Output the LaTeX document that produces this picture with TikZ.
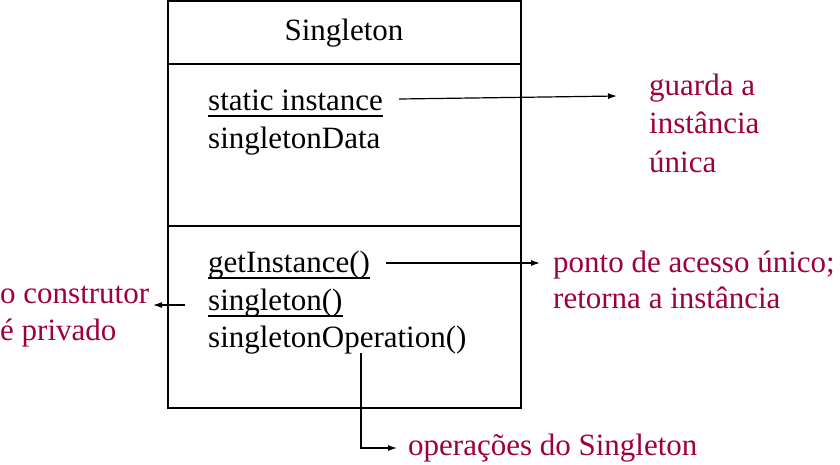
\documentclass[tikz,border=0pt]{standalone}
\usepackage{fontspec}
\setmainfont{Liberation Serif}
\usetikzlibrary{arrows.meta}
\definecolor{notered}{RGB}{158,0,62}
\newcommand{\ulin}[1]{\setbox0\hbox{#1}\rlap{\rule[-0.22em]{\wd0}{0.065em}}\box0}
\tikzset{
  member/.style={anchor=base west, inner sep=0pt},
  note/.style={anchor=base west, inner sep=0pt, align=left, text=notered},
  pointer/.style={line width=1.2pt, -{Latex[length=9pt,width=6pt]}}
}
\begin{document}
\begin{tikzpicture}[x=1pt,y=-1pt]
\useasboundingbox (0,0) rectangle (840,464);
\fontsize{31}{37}\selectfont

% Class box
\draw [line width=1.4pt] (168,1) rectangle (521,408);
\draw [line width=1.4pt] (168,64) -- (521,64);
\draw [line width=1.4pt] (168,226) -- (521,226);

\node [anchor=base, inner sep=0pt] (title) at (344,40) {Singleton};

% Attributes
\node [member] (inst) at (208,110) {\ulin{static instance}};
\node [member] (data) at (208,148) {singletonData};

% Operations
\node [member] (getinst) at (208,272) {\ulin{getInstance()}};
\node [member] (ctor) at (208,310) {\ulin{singleton()}};
\node [member] (oper) at (208,347) {singletonOperation()};

% Notes (base = last line)
\node [note, font=\fontsize{31}{38.5}\selectfont] (guarda) at (649,172) {guarda a\\instância\\única};
\node [note, font=\fontsize{31}{36}\selectfont] (ponto) at (553,308) {ponto de acesso único;\\retorna a instância};
\node [note] (privado) at (0,340) {o construtor\\é privado};
\node [note] (opsnote) at (408,455) {operações do Singleton};

\coordinate (guardatip) at (617,96);
\coordinate (pontotip) at (540,263);
\coordinate (privadotip) at (153,305);

%Arrows
\draw [pointer] ([xshift=16pt,yshift=11pt]inst.base east) -- (guardatip);
\draw [pointer] ([xshift=16pt,yshift=9pt]getinst.base east) -- (pontotip);
\draw [pointer] ([xshift=-23pt,yshift=5pt]ctor.base west) -- (privadotip);
\draw [pointer] ([xshift=153pt,yshift=-6pt]oper.base west) |- ([xshift=-11pt,yshift=7pt]opsnote.base west);
\end{tikzpicture}
\end{document}
